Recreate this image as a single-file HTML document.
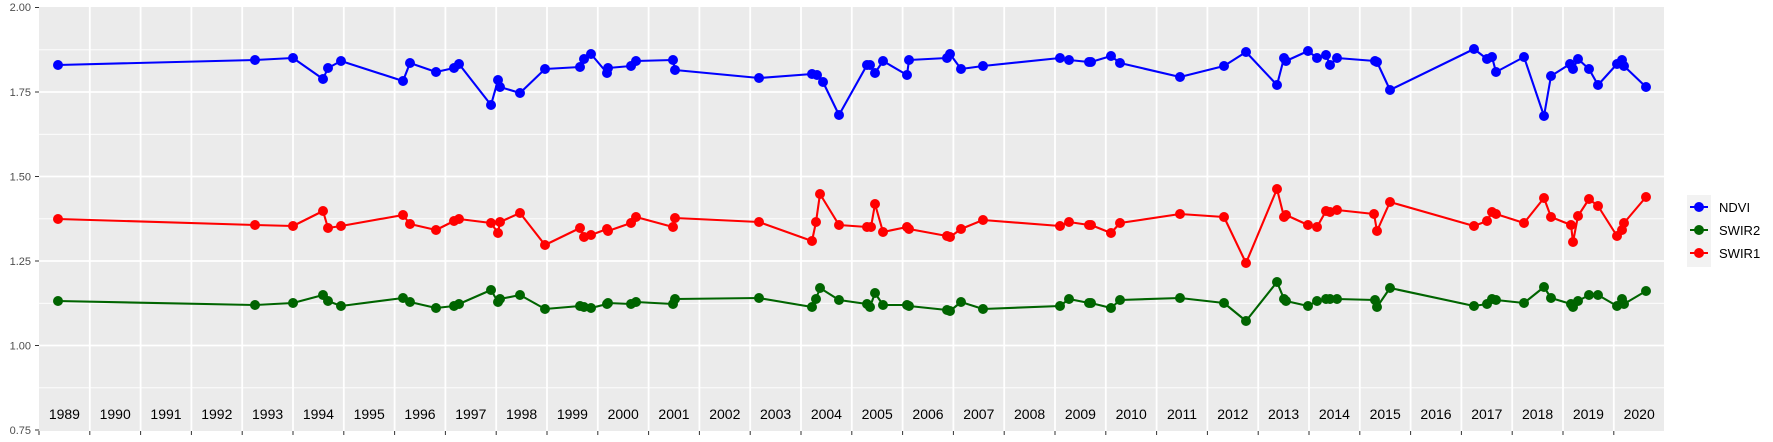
<!DOCTYPE html>
<html><head><meta charset="utf-8"><style>html,body{margin:0;padding:0;background:#fff}svg{display:block}</style></head>
<body>
<svg width="1773" height="442" xmlns="http://www.w3.org/2000/svg" font-family="Liberation Sans, sans-serif">
<rect x="0" y="0" width="1773" height="442" fill="#fff"/>
<rect x="39" y="7" width="1625" height="424" fill="#ebebeb"/>
<g stroke="#fff" stroke-width="0.9">
<line x1="39" x2="1664" y1="49.8" y2="49.8"/><line x1="39" x2="1664" y1="134.3" y2="134.3"/><line x1="39" x2="1664" y1="218.8" y2="218.8"/><line x1="39" x2="1664" y1="303.3" y2="303.3"/><line x1="39" x2="1664" y1="387.8" y2="387.8"/>
</g>
<g stroke="#fff" stroke-width="1.8">
<line x1="39" x2="1664" y1="92" y2="92"/><line x1="39" x2="1664" y1="176.5" y2="176.5"/><line x1="39" x2="1664" y1="261" y2="261"/><line x1="39" x2="1664" y1="345.5" y2="345.5"/>
</g>
<g id="vg" stroke="#fff" stroke-width="1.8"></g>
<g id="yr" font-size="14" fill="#000" text-anchor="middle"></g>
<g id="bt" stroke="#333" stroke-width="1"></g>
<g font-size="11" fill="#4d4d4d" text-anchor="end">
<text x="31" y="11">2.00</text><text x="31" y="96">1.75</text><text x="31" y="180.5">1.50</text><text x="31" y="265">1.25</text><text x="31" y="349.5">1.00</text><text x="31" y="434">0.75</text>
</g>
<g stroke="#333" stroke-width="1">
<line x1="35" x2="39" y1="7.5" y2="7.5"/><line x1="35" x2="39" y1="92" y2="92"/><line x1="35" x2="39" y1="176.5" y2="176.5"/><line x1="35" x2="39" y1="261" y2="261"/><line x1="35" x2="39" y1="345.5" y2="345.5"/><line x1="35" x2="39" y1="430" y2="430"/>
</g>
<g id="series"></g>
<rect x="1687" y="195" width="24" height="72" fill="#f2f2f2"/>
<g stroke-width="2"><line x1="1690" x2="1708" y1="207" y2="207" stroke="#0000ff"/><line x1="1690" x2="1708" y1="230" y2="230" stroke="#006400"/><line x1="1690" x2="1708" y1="253" y2="253" stroke="#ff0000"/></g>
<circle cx="1699" cy="207" r="5" fill="#0000ff"/><circle cx="1699" cy="230" r="5" fill="#006400"/><circle cx="1699" cy="253" r="5" fill="#ff0000"/>
<g font-size="13" fill="#000"><text x="1719" y="212">NDVI</text><text x="1719" y="235">SWIR2</text><text x="1719" y="258">SWIR1</text></g>
</svg>
<script>
var ns="http://www.w3.org/2000/svg";
function el(t,a,p){var e=document.createElementNS(ns,t);for(var k in a)e.setAttribute(k,a[k]);p.appendChild(e);return e;}
var vg=document.getElementById("vg"),yr=document.getElementById("yr"),bt=document.getElementById("bt");
for(var i=0;i<32;i++){var x=39+50.8*i;
 if(i>0)el("line",{x1:x,x2:x,y1:7,y2:431},vg);
 el("line",{x1:x,x2:x,y1:431,y2:435},bt);
 var t=el("text",{x:x+25.4,y:419},yr);t.textContent=1989+i;}
var N=[[58,65],[255,60],[293,58],[323,79],[328,68],[341,61],[403,81],[410,63],[436,72],[454,68],[459,64],[491,105],[498,80],[500,87],[520,93],[545,69],[580,67],[584,59],[591,54],[607,73],[608,68],[631,66],[636,61],[673,60],[675,70],[759,78],[812,74],[817,75],[823,82],[839,115],[867,65],[870,65],[875,73],[883,61],[907,75],[909,60],[947,58],[950,54],[961,69],[983,66],[1060,58],[1069,60],[1089,62],[1091,62],[1111,56],[1120,63],[1180,77],[1224,66],[1246,52],[1277,85],[1284,58],[1286,61],[1308,51],[1317,58],[1326,55],[1330,65],[1337,58],[1375,61],[1377,62],[1390,90],[1474,49],[1487,59],[1492,57],[1496,72],[1524,57],[1544,116],[1551,76],[1570,64],[1573,69],[1578,59],[1589,69],[1598,85],[1617,64],[1622,60],[1624,66],[1646,87]];
var R=[[58,219],[255,225],[293,226],[323,211],[328,228],[341,226],[403,215],[410,224],[436,230],[454,221],[459,219],[491,223],[498,233],[500,222],[520,213],[545,245],[580,228],[584,237],[591,235],[607,229],[608,231],[631,223],[636,217],[673,227],[675,218],[759,222],[812,241],[816,222],[820,194],[839,225],[867,227],[871,227],[875,204],[883,232],[907,227],[909,229],[947,236],[950,237],[961,229],[983,220],[1060,226],[1069,222],[1089,225],[1091,225],[1111,233],[1120,223],[1180,214],[1224,217],[1246,263],[1277,189],[1284,217],[1286,215],[1308,225],[1317,227],[1326,211],[1330,212],[1337,210],[1374,214],[1377,231],[1390,202],[1474,226],[1487,221],[1492,212],[1496,214],[1524,223],[1544,198],[1551,217],[1571,225],[1573,242],[1578,216],[1589,199],[1598,206],[1617,236],[1622,230],[1624,223],[1646,197]];
var G=[[58,301],[255,305],[293,303],[323,295],[328,301],[341,306],[403,298],[410,302],[436,308],[454,306],[459,304],[491,290],[498,302],[500,299],[520,295],[545,309],[580,306],[584,307],[591,308],[607,304],[608,303],[631,304],[636,302],[673,304],[675,299],[759,298],[812,307],[816,299],[820,288],[839,300],[867,304],[870,307],[875,293],[883,305],[907,305],[909,306],[947,310],[950,311],[961,302],[983,309],[1060,306],[1069,299],[1089,303],[1091,303],[1111,308],[1120,300],[1180,298],[1224,303],[1246,321],[1277,282],[1284,299],[1286,301],[1308,306],[1317,301],[1326,299],[1330,299],[1337,299],[1375,300],[1377,307],[1390,288],[1474,306],[1487,304],[1492,299],[1496,300],[1524,303],[1544,287],[1551,298],[1571,304],[1573,307],[1578,301],[1589,295],[1598,295],[1617,306],[1622,299],[1624,304],[1646,291]];
var s=document.getElementById("series");
[[N,"#0000ff"],[G,"#006400"],[R,"#ff0000"]].forEach(function(d){
 el("polyline",{points:d[0].map(function(p){return p.join(",")}).join(" "),fill:"none",stroke:d[1],"stroke-width":2.1,"stroke-linejoin":"round"},s);
 d[0].forEach(function(p){el("circle",{cx:p[0],cy:p[1],r:5,fill:d[1]},s);});
});
</script>
</body></html>
